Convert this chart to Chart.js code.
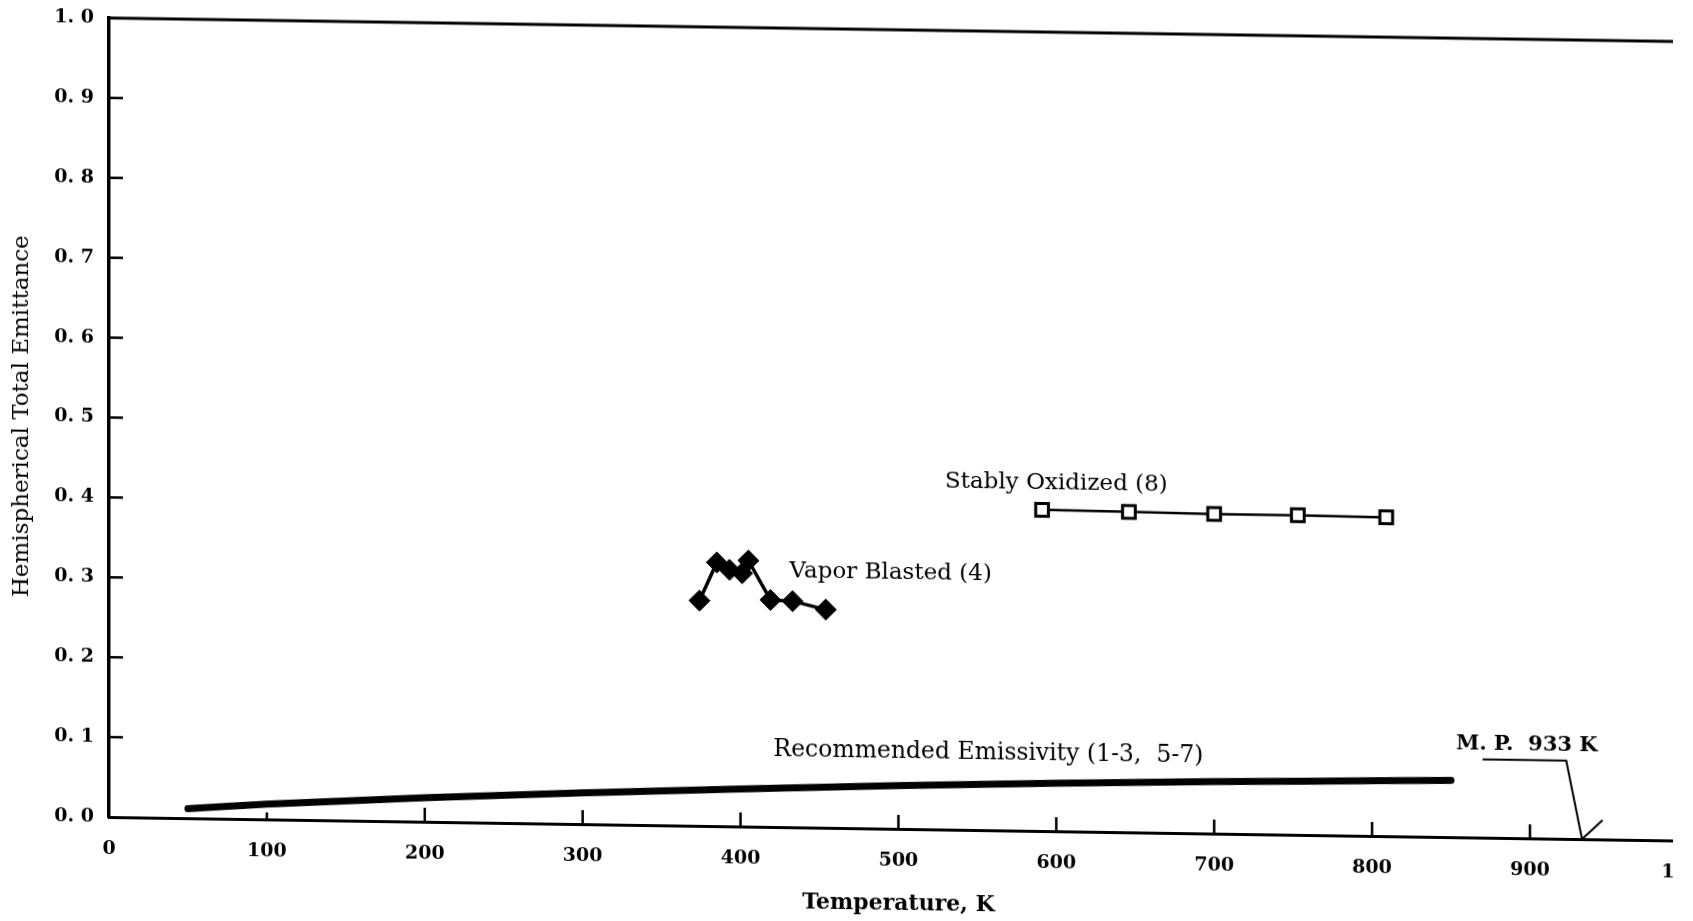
<!DOCTYPE html>
<html>
<head>
<meta charset="utf-8">
<script src="https://cdn.jsdelivr.net/npm/chart.js@4/dist/chart.umd.min.js"></script>
<style>
html,body{margin:0;padding:0;background:#fff;overflow:hidden}
#wrap{position:absolute;left:0;top:0;width:1673px;height:921px;overflow:hidden;background:#fff}
#c{position:absolute;left:0;top:0;transform:skewY(0.86deg);transform-origin:109px 0}
</style>
</head>
<body>
<div id="wrap"><canvas id="c" width="1734" height="921"></canvas></div>
<script>
// ── data (K, emittance) ──
const recT=[50,100,200,300,400,500,600,700,800,850];
const recE=[0.012,0.019,0.030,0.039,0.047,0.054,0.060,0.065,0.069,0.071];
const oxT=[591,646,700,753,809];
const oxE=[0.402,0.401,0.400,0.400,0.399];
const vapT=[374,385,393,401,405,419,433,454];
const vapE=[0.282,0.330,0.321,0.317,0.333,0.284,0.283,0.273];
const mpT=[870,923,933,946];
const mpE=[0.098,0.098,0,0.024];
const xTicks=[0,100,200,300,400,500,600,700,800,900,1000];
const yTicks=[0,0.1,0.2,0.3,0.4,0.5,0.6,0.7,0.8,0.9,1.0];

// labels placed in data space
const notes=[
  {t:'Stably Oxidized (8)',x:600,y:0.435,align:'center',font:'23px "DejaVu Serif"'},
  {t:'Vapor Blasted (4)',x:431,y:0.32,align:'left',font:'23px "DejaVu Serif"'},
  {t:'Recommended Emissivity (1-3,  5-7)',x:557,y:0.097,align:'center',font:'23.5px "DejaVu Serif"'},
  {t:'M. P.  933 K',x:898,y:0.117,align:'center',font:'bold 21px "DejaVu Serif"'}
];

const pts=(xs,ys)=>xs.map((x,i)=>({x,y:ys[i]}));
const SERIF='"DejaVu Serif", serif';

// inward tick marks, top frame line, text notes
const frame={id:'frame',afterDatasetsDraw(ch){
  const {ctx,chartArea:a,scales:{x,y}}=ch;
  ctx.save();ctx.strokeStyle='#000';ctx.lineWidth=3;ctx.lineCap='butt';
  ctx.beginPath();ctx.moveTo(a.left-2,a.top);ctx.lineTo(a.right+10,a.top);ctx.stroke();
  ctx.lineWidth=2.5;
  xTicks.slice(1).forEach(v=>{const px=x.getPixelForValue(v);ctx.beginPath();ctx.moveTo(px,a.bottom);ctx.lineTo(px,a.bottom-(v===100?7:14));ctx.stroke();});
  yTicks.slice(1,-1).forEach(v=>{const py=y.getPixelForValue(v);ctx.beginPath();ctx.moveTo(a.left,py);ctx.lineTo(a.left+14,py);ctx.stroke();});
  ctx.fillStyle='#000';ctx.textBaseline='middle';
  notes.forEach(n=>{ctx.font=n.font;ctx.textAlign=n.align;ctx.fillText(n.t,x.getPixelForValue(n.x),y.getPixelForValue(n.y));});
  ctx.restore();
}};

new Chart(document.getElementById('c'),{
  type:'scatter',
  data:{datasets:[
    {data:pts(recT,recE),showLine:true,borderColor:'#000',borderWidth:7,borderCapStyle:'round',pointRadius:0,tension:0.3,cubicInterpolationMode:'monotone'},
    {data:pts(oxT,oxE),showLine:true,borderColor:'#000',borderWidth:2.5,pointStyle:'rect',pointRadius:9,pointBorderWidth:3,pointBackgroundColor:'#fff',pointBorderColor:'#000'},
    {data:pts(vapT,vapE),showLine:true,borderColor:'#000',borderWidth:3.5,pointStyle:'rectRot',pointRadius:10.5,pointBorderWidth:1,pointBackgroundColor:'#000',pointBorderColor:'#000'},
    {data:pts(mpT,mpE),showLine:true,borderColor:'#000',borderWidth:2,pointRadius:0}
  ]},
  options:{
    responsive:false,animation:false,devicePixelRatio:1,
    layout:{padding:{top:18,right:46,left:0,bottom:0}},
    plugins:{legend:{display:false},tooltip:{enabled:false}},
    scales:{
      x:{type:'linear',min:0,max:1000,
        afterFit:s=>{s.height=104;s.paddingLeft=0;s.paddingRight=0;},
        afterBuildTicks:s=>{s.ticks=xTicks.map(v=>({value:v}));},
        grid:{display:false,drawTicks:false},border:{display:true,width:3,color:'#000'},
        ticks:{padding:21,color:'#000',maxRotation:0,autoSkip:false,font:{family:SERIF,weight:'bold',size:19},callback:v=>String(v)},
        title:{display:true,text:'Temperature, K',color:'#000',font:{family:SERIF,weight:'bold',size:22},padding:{bottom:16}}},
      y:{type:'linear',min:0,max:1,
        afterFit:s=>{s.width=109;s.paddingTop=0;s.paddingBottom=0;},
        afterBuildTicks:s=>{s.ticks=yTicks.map(v=>({value:v}));},
        grid:{display:false,drawTicks:false},border:{display:true,width:3.5,color:'#000'},
        ticks:{padding:15,color:'#000',autoSkip:false,font:{family:SERIF,weight:'bold',size:19},callback:v=>v.toFixed(1).replace('.','. ')},
        title:{display:true,text:'Hemispherical Total Emittance',color:'#000',font:{family:SERIF,size:23},padding:{top:8}}}
    }
  },
  plugins:[frame]
});
</script>
</body>
</html>
